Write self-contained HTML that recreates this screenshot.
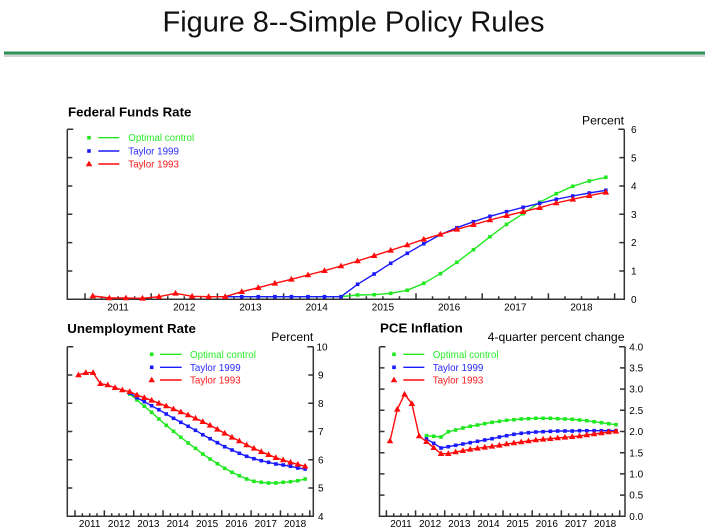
<!DOCTYPE html>
<html><head><meta charset="utf-8"><style>
html,body{margin:0;padding:0;background:#fff;}
svg{display:block;}
text{font-family:"Liberation Sans",Arial,sans-serif;}
</style></head><body>
<svg width="707" height="532" viewBox="0 0 707 532" xmlns="http://www.w3.org/2000/svg">
<defs>
<rect id="g" x="-1.8" y="-1.8" width="3.6" height="3.6" fill="#1fe81f"/>
<rect id="b" x="-1.8" y="-1.8" width="3.6" height="3.6" fill="#1a1aff"/>
<path id="r" d="M0,-3.4 L3.3,2.3 L-3.3,2.3Z" fill="#ff0a0a"/>
</defs>
<rect width="707" height="532" fill="#fff"/>
<text x="353.5" y="31.5" font-size="29" text-anchor="middle" fill="#111">Figure 8--Simple Policy Rules</text>
<rect x="4" y="54.5" width="701" height="2.5" fill="#d4d4d4"/>
<rect x="4" y="51.5" width="701" height="3" fill="#2f9458"/>

<!-- ===== TOP CHART ===== -->
<text x="68" y="116.5" font-size="13.3" font-weight="bold" fill="#000">Federal Funds Rate</text>
<text x="624" y="124.5" font-size="12.2" text-anchor="end" fill="#000">Percent</text>
<g stroke="#333" stroke-width="1.5" fill="none">
<path d="M67.3,129.3 V299.3 H624.3 V129.3"/>
<path d="M67.3,129.3h6 M67.3,157.65h5 M67.3,185.98h5 M67.3,214.31h5 M67.3,242.64h5 M67.3,270.97h5"/>
<path d="M624.3,129.3h-6 M624.3,157.65h-5 M624.3,185.98h-5 M624.3,214.31h-5 M624.3,242.64h-5 M624.3,270.97h-5"/>
<path d="M85,299.3v-6 M151.2,299.3v-6 M217.4,299.3v-6 M283.6,299.3v-6 M349.8,299.3v-6 M416,299.3v-6 M482.2,299.3v-6 M548.4,299.3v-6 M614.6,299.3v-6"/>
<path d="M101.55,299.3v-3 M118.1,299.3v-3 M134.65,299.3v-3 M167.75,299.3v-3 M184.3,299.3v-3 M200.85,299.3v-3 M233.95,299.3v-3 M250.5,299.3v-3 M267.05,299.3v-3 M300.15,299.3v-3 M316.7,299.3v-3 M333.25,299.3v-3 M366.35,299.3v-3 M382.9,299.3v-3 M399.45,299.3v-3 M432.55,299.3v-3 M449.1,299.3v-3 M465.65,299.3v-3 M498.75,299.3v-3 M515.3,299.3v-3 M531.85,299.3v-3 M564.95,299.3v-3 M581.5,299.3v-3 M598.05,299.3v-3"/>
</g>
<g font-size="10" fill="#000">
<text x="631" y="302.9">0</text><text x="631" y="274.6">1</text><text x="631" y="246.2">2</text><text x="631" y="217.9">3</text><text x="631" y="189.6">4</text><text x="631" y="161.3">5</text><text x="631" y="132.9">6</text>
</g>
<g font-size="10" fill="#000" text-anchor="middle">
<text x="118.1" y="310.5">2011</text><text x="184.3" y="310.5">2012</text><text x="250.5" y="310.5">2013</text><text x="316.7" y="310.5">2014</text><text x="382.9" y="310.5">2015</text><text x="449.1" y="310.5">2016</text><text x="515.3" y="310.5">2017</text><text x="581.5" y="310.5">2018</text>
</g>
<!-- legend top -->
<use href="#g" x="89" y="137.7"/><line x1="98.3" y1="137.7" x2="119.3" y2="137.7" stroke="#1fe81f" stroke-width="1.4"/>
<text x="128.3" y="141.2" font-size="9.8" fill="#2aee2a">Optimal control</text>
<use href="#b" x="89" y="151"/><line x1="98.3" y1="151" x2="119.3" y2="151" stroke="#1a1aff" stroke-width="1.4"/>
<text x="128.3" y="154.5" font-size="9.8" fill="#2a2aff">Taylor 1999</text>
<use href="#r" x="89" y="164"/><line x1="98.3" y1="164" x2="119.3" y2="164" stroke="#ff0a0a" stroke-width="1.4"/>
<text x="128.3" y="167.5" font-size="9.8" fill="#ff1a1a">Taylor 1993</text>
<!-- series top -->
<polyline fill="none" stroke-width="1.4" stroke-linejoin="round" stroke="#1fe81f" points="225.2,296.7 241.75,296.7 258.3,296.7 274.85,296.7 291.4,296.7 307.95,296.7 324.5,296.7 341.05,296.7 357.6,295 374.15,294.7 390.7,293.3 407.25,290.3 423.8,283.3 440.35,273.7 456.9,262.3 473.45,249.7 490,236.7 506.55,224.3 523.1,213.7 539.65,202.3 556.2,193.7 572.75,186.3 589.3,181 605.85,177.3"/>
<g>
<use href="#g" x="357.6" y="295"/><use href="#g" x="374.15" y="294.7"/><use href="#g" x="390.7" y="293.3"/><use href="#g" x="407.25" y="290.3"/><use href="#g" x="423.8" y="283.3"/><use href="#g" x="440.35" y="273.7"/><use href="#g" x="456.9" y="262.3"/><use href="#g" x="473.45" y="249.7"/><use href="#g" x="490" y="236.7"/><use href="#g" x="506.55" y="224.3"/><use href="#g" x="523.1" y="213.7"/><use href="#g" x="539.65" y="202.3"/><use href="#g" x="556.2" y="193.7"/><use href="#g" x="572.75" y="186.3"/><use href="#g" x="589.3" y="181"/><use href="#g" x="605.85" y="177.3"/>
</g>
<polyline fill="none" stroke-width="1.4" stroke-linejoin="round" stroke="#1a1aff" points="225.2,296.7 241.75,296.7 258.3,296.7 274.85,296.7 291.4,296.7 307.95,296.7 324.5,296.7 341.05,296.7 357.6,284.3 374.15,274 390.7,263.3 407.25,253.3 423.8,243.7 440.35,234.7 456.9,227.7 473.45,221.7 490,216.3 506.55,211.7 523.1,207.3 539.65,203.3 556.2,199.3 572.75,196 589.3,193 605.85,190.3"/>
<g>
<use href="#b" x="241.75" y="296.7"/><use href="#b" x="258.3" y="296.7"/><use href="#b" x="274.85" y="296.7"/><use href="#b" x="291.4" y="296.7"/><use href="#b" x="307.95" y="296.7"/><use href="#b" x="324.5" y="296.7"/><use href="#b" x="341.05" y="296.7"/><use href="#b" x="357.6" y="284.3"/><use href="#b" x="374.15" y="274"/><use href="#b" x="390.7" y="263.3"/><use href="#b" x="407.25" y="253.3"/><use href="#b" x="423.8" y="243.7"/><use href="#b" x="440.35" y="234.7"/><use href="#b" x="456.9" y="227.7"/><use href="#b" x="473.45" y="221.7"/><use href="#b" x="490" y="216.3"/><use href="#b" x="506.55" y="211.7"/><use href="#b" x="523.1" y="207.3"/><use href="#b" x="539.65" y="203.3"/><use href="#b" x="556.2" y="199.3"/><use href="#b" x="572.75" y="196"/><use href="#b" x="589.3" y="193"/><use href="#b" x="605.85" y="190.3"/>
</g>
<polyline fill="none" stroke-width="1.4" stroke-linejoin="round" stroke="#ff0a0a" points="92.8,296 109.35,298 125.9,298 142.45,298.3 159,296.7 175.55,293.3 192.1,296.3 208.65,296.7 225.2,296.7 241.75,291.7 258.3,287.7 274.85,283.3 291.4,279.3 307.95,275 324.5,270.7 341.05,266 357.6,261 374.15,255.7 390.7,250.3 407.25,245 423.8,239.3 440.35,234.3 456.9,229.3 473.45,224.7 490,220 506.55,215.7 523.1,211.7 539.65,207.7 556.2,203 572.75,199.3 589.3,195.7 605.85,192.3"/>
<g>
<use href="#r" x="92.8" y="296"/><use href="#r" x="109.35" y="298"/><use href="#r" x="125.9" y="298"/><use href="#r" x="142.45" y="298.3"/><use href="#r" x="159" y="296.7"/><use href="#r" x="175.55" y="293.3"/><use href="#r" x="192.1" y="296.3"/><use href="#r" x="208.65" y="296.7"/><use href="#r" x="225.2" y="296.7"/><use href="#r" x="241.75" y="291.7"/><use href="#r" x="258.3" y="287.7"/><use href="#r" x="274.85" y="283.3"/><use href="#r" x="291.4" y="279.3"/><use href="#r" x="307.95" y="275"/><use href="#r" x="324.5" y="270.7"/><use href="#r" x="341.05" y="266"/><use href="#r" x="357.6" y="261"/><use href="#r" x="374.15" y="255.7"/><use href="#r" x="390.7" y="250.3"/><use href="#r" x="407.25" y="245"/><use href="#r" x="423.8" y="239.3"/><use href="#r" x="440.35" y="234.3"/><use href="#r" x="456.9" y="229.3"/><use href="#r" x="473.45" y="224.7"/><use href="#r" x="490" y="220"/><use href="#r" x="506.55" y="215.7"/><use href="#r" x="523.1" y="211.7"/><use href="#r" x="539.65" y="207.7"/><use href="#r" x="556.2" y="203"/><use href="#r" x="572.75" y="199.3"/><use href="#r" x="589.3" y="195.7"/><use href="#r" x="605.85" y="192.3"/>
</g>

<!-- ===== UNEMPLOYMENT ===== -->
<text x="67.3" y="333" font-size="13.3" font-weight="bold" fill="#000">Unemployment Rate</text>
<text x="313.3" y="341" font-size="12.2" text-anchor="end" fill="#000">Percent</text>
<g stroke="#333" stroke-width="1.5" fill="none">
<path d="M67.3,346.7 V516.3 H313.3 V346.7"/>
<path d="M67.3,346.7h6 M67.3,374.97h5 M67.3,403.23h5 M67.3,431.5h5 M67.3,459.77h5 M67.3,488.03h5"/>
<path d="M313.3,346.7h-6 M313.3,374.97h-5 M313.3,403.23h-5 M313.3,431.5h-5 M313.3,459.77h-5 M313.3,488.03h-5"/>
<path d="M75,516.3v-6 M104.35,516.3v-6 M133.7,516.3v-6 M163.05,516.3v-6 M192.4,516.3v-6 M221.75,516.3v-6 M251.1,516.3v-6 M280.45,516.3v-6 M309.8,516.3v-6"/>
<path d="M82.34,516.3v-3 M89.68,516.3v-3 M97.01,516.3v-3 M111.69,516.3v-3 M119.03,516.3v-3 M126.36,516.3v-3 M141.04,516.3v-3 M148.38,516.3v-3 M155.71,516.3v-3 M170.39,516.3v-3 M177.73,516.3v-3 M185.06,516.3v-3 M199.74,516.3v-3 M207.08,516.3v-3 M214.41,516.3v-3 M229.09,516.3v-3 M236.43,516.3v-3 M243.76,516.3v-3 M258.44,516.3v-3 M265.78,516.3v-3 M273.11,516.3v-3 M287.79,516.3v-3 M295.13,516.3v-3 M302.46,516.3v-3"/>
</g>
<g font-size="10" fill="#000">
<text x="318" y="519.9">4</text><text x="318" y="491.6">5</text><text x="318" y="463.4">6</text><text x="318" y="435.1">7</text><text x="318" y="406.8">8</text><text x="318" y="378.6">9</text><text x="316.5" y="350.3">10</text>
</g>
<g font-size="10" fill="#000" text-anchor="middle">
<text x="89.68" y="527">2011</text><text x="119.03" y="527">2012</text><text x="148.38" y="527">2013</text><text x="177.73" y="527">2014</text><text x="207.08" y="527">2015</text><text x="236.43" y="527">2016</text><text x="265.78" y="527">2017</text><text x="295.13" y="527">2018</text>
</g>
<use href="#g" x="151.7" y="354.3"/><line x1="160" y1="354.3" x2="181.7" y2="354.3" stroke="#1fe81f" stroke-width="1.4"/>
<text x="190" y="357.8" font-size="9.8" fill="#2aee2a">Optimal control</text>
<use href="#b" x="151.7" y="367.3"/><line x1="160" y1="367.3" x2="181.7" y2="367.3" stroke="#1a1aff" stroke-width="1.4"/>
<text x="190" y="370.8" font-size="9.8" fill="#2a2aff">Taylor 1999</text>
<use href="#r" x="151.7" y="380"/><line x1="160" y1="380" x2="181.7" y2="380" stroke="#ff0a0a" stroke-width="1.4"/>
<text x="190" y="383.5" font-size="9.8" fill="#ff1a1a">Taylor 1993</text>

<polyline fill="none" stroke-width="1.4" stroke-linejoin="round" stroke="#1fe81f" points="129.67,394 136.98,400 144.29,406.3 151.6,412.3 158.91,419 166.22,425.3 173.53,431.3 180.84,437.3 188.15,443 195.46,448.3 202.77,454 210.08,459 217.39,463.7 224.7,468.3 232.01,472.3 239.32,475.7 246.63,479 253.94,481.3 261.25,482.3 268.56,483 275.87,483 283.18,482.3 290.49,481.7 297.8,480.7 305.11,479"/>
<g>
<use href="#g" x="129.67" y="394"/><use href="#g" x="136.98" y="400"/><use href="#g" x="144.29" y="406.3"/><use href="#g" x="151.6" y="412.3"/><use href="#g" x="158.91" y="419"/><use href="#g" x="166.22" y="425.3"/><use href="#g" x="173.53" y="431.3"/><use href="#g" x="180.84" y="437.3"/><use href="#g" x="188.15" y="443"/><use href="#g" x="195.46" y="448.3"/><use href="#g" x="202.77" y="454"/><use href="#g" x="210.08" y="459"/><use href="#g" x="217.39" y="463.7"/><use href="#g" x="224.7" y="468.3"/><use href="#g" x="232.01" y="472.3"/><use href="#g" x="239.32" y="475.7"/><use href="#g" x="246.63" y="479"/><use href="#g" x="253.94" y="481.3"/><use href="#g" x="261.25" y="482.3"/><use href="#g" x="268.56" y="483"/><use href="#g" x="275.87" y="483"/><use href="#g" x="283.18" y="482.3"/><use href="#g" x="290.49" y="481.7"/><use href="#g" x="297.8" y="480.7"/><use href="#g" x="305.11" y="479"/>
</g>
<polyline fill="none" stroke-width="1.4" stroke-linejoin="round" stroke="#1a1aff" points="129.67,393 136.98,397.7 144.29,401.7 151.6,405.7 158.91,409.7 166.22,414 173.53,418.3 180.84,422.3 188.15,426.3 195.46,430.3 202.77,434.7 210.08,438.7 217.39,442.7 224.7,446.7 232.01,450 239.32,453.3 246.63,456.3 253.94,458.7 261.25,460.7 268.56,462.3 275.87,464 283.18,465 290.49,466.3 297.8,468 305.11,469"/>
<g>
<use href="#b" x="129.67" y="393"/><use href="#b" x="136.98" y="397.7"/><use href="#b" x="144.29" y="401.7"/><use href="#b" x="151.6" y="405.7"/><use href="#b" x="158.91" y="409.7"/><use href="#b" x="166.22" y="414"/><use href="#b" x="173.53" y="418.3"/><use href="#b" x="180.84" y="422.3"/><use href="#b" x="188.15" y="426.3"/><use href="#b" x="195.46" y="430.3"/><use href="#b" x="202.77" y="434.7"/><use href="#b" x="210.08" y="438.7"/><use href="#b" x="217.39" y="442.7"/><use href="#b" x="224.7" y="446.7"/><use href="#b" x="232.01" y="450"/><use href="#b" x="239.32" y="453.3"/><use href="#b" x="246.63" y="456.3"/><use href="#b" x="253.94" y="458.7"/><use href="#b" x="261.25" y="460.7"/><use href="#b" x="268.56" y="462.3"/><use href="#b" x="275.87" y="464"/><use href="#b" x="283.18" y="465"/><use href="#b" x="290.49" y="466.3"/><use href="#b" x="297.8" y="468"/><use href="#b" x="305.11" y="469"/>
</g>
<polyline fill="none" stroke-width="1.4" stroke-linejoin="round" stroke="#ff0a0a" points="78.5,375 85.81,372.7 93.12,372.7 100.43,383.7 107.74,385 115.05,387.7 122.36,390 129.67,391.7 136.98,395 144.29,397.7 151.6,400.3 158.91,403.3 166.22,406 173.53,409 180.84,412 188.15,415 195.46,418.3 202.77,421.7 210.08,425.3 217.39,429.3 224.7,433.3 232.01,437.3 239.32,441 246.63,445 253.94,448.3 261.25,451.7 268.56,454.7 275.87,457.7 283.18,460 290.49,462.3 297.8,464.3 305.11,466.3"/>
<g>
<use href="#r" x="78.5" y="375"/><use href="#r" x="85.81" y="372.7"/><use href="#r" x="93.12" y="372.7"/><use href="#r" x="100.43" y="383.7"/><use href="#r" x="107.74" y="385"/><use href="#r" x="115.05" y="387.7"/><use href="#r" x="122.36" y="390"/><use href="#r" x="129.67" y="391.7"/><use href="#r" x="136.98" y="395"/><use href="#r" x="144.29" y="397.7"/><use href="#r" x="151.6" y="400.3"/><use href="#r" x="158.91" y="403.3"/><use href="#r" x="166.22" y="406"/><use href="#r" x="173.53" y="409"/><use href="#r" x="180.84" y="412"/><use href="#r" x="188.15" y="415"/><use href="#r" x="195.46" y="418.3"/><use href="#r" x="202.77" y="421.7"/><use href="#r" x="210.08" y="425.3"/><use href="#r" x="217.39" y="429.3"/><use href="#r" x="224.7" y="433.3"/><use href="#r" x="232.01" y="437.3"/><use href="#r" x="239.32" y="441"/><use href="#r" x="246.63" y="445"/><use href="#r" x="253.94" y="448.3"/><use href="#r" x="261.25" y="451.7"/><use href="#r" x="268.56" y="454.7"/><use href="#r" x="275.87" y="457.7"/><use href="#r" x="283.18" y="460"/><use href="#r" x="290.49" y="462.3"/><use href="#r" x="297.8" y="464.3"/><use href="#r" x="305.11" y="466.3"/>
</g>

<!-- ===== PCE INFLATION ===== -->
<text x="380" y="332.7" font-size="13.3" font-weight="bold" fill="#000">PCE Inflation</text>
<text x="624.5" y="341" font-size="12.2" text-anchor="end" fill="#000">4-quarter percent change</text>
<g stroke="#333" stroke-width="1.5" fill="none">
<path d="M379.5,346.7 V516.3 H625 V346.7"/>
<path d="M379.5,346.7h6 M379.5,367.9h5 M379.5,389.1h5 M379.5,410.3h5 M379.5,431.5h5 M379.5,452.7h5 M379.5,473.9h5 M379.5,495.1h5"/>
<path d="M625,346.7h-6 M625,367.9h-5 M625,389.1h-5 M625,410.3h-5 M625,431.5h-5 M625,452.7h-5 M625,473.9h-5 M625,495.1h-5"/>
<path d="M386.4,516.3v-6 M415.56,516.3v-6 M444.72,516.3v-6 M473.88,516.3v-6 M503.04,516.3v-6 M532.2,516.3v-6 M561.36,516.3v-6 M590.52,516.3v-6 M619.68,516.3v-6"/>
<path d="M393.69,516.3v-3 M400.98,516.3v-3 M408.27,516.3v-3 M422.85,516.3v-3 M430.14,516.3v-3 M437.43,516.3v-3 M452.01,516.3v-3 M459.3,516.3v-3 M466.59,516.3v-3 M481.17,516.3v-3 M488.46,516.3v-3 M495.75,516.3v-3 M510.33,516.3v-3 M517.62,516.3v-3 M524.91,516.3v-3 M539.49,516.3v-3 M546.78,516.3v-3 M554.07,516.3v-3 M568.65,516.3v-3 M575.94,516.3v-3 M583.23,516.3v-3 M597.81,516.3v-3 M605.1,516.3v-3 M612.39,516.3v-3"/>
</g>
<g font-size="10" fill="#000">
<text x="629.3" y="519.9">0.0</text><text x="629.3" y="498.7">0.5</text><text x="629.3" y="477.5">1.0</text><text x="629.3" y="456.3">1.5</text><text x="629.3" y="435.1">2.0</text><text x="629.3" y="413.9">2.5</text><text x="629.3" y="392.7">3.0</text><text x="629.3" y="371.5">3.5</text><text x="629.3" y="350.3">4.0</text>
</g>
<g font-size="10" fill="#000" text-anchor="middle">
<text x="400.98" y="527">2011</text><text x="430.14" y="527">2012</text><text x="459.3" y="527">2013</text><text x="488.46" y="527">2014</text><text x="517.62" y="527">2015</text><text x="546.78" y="527">2016</text><text x="575.94" y="527">2017</text><text x="605.1" y="527">2018</text>
</g>
<use href="#g" x="394" y="354.3"/><line x1="403.3" y1="354.3" x2="424.3" y2="354.3" stroke="#1fe81f" stroke-width="1.4"/>
<text x="432.7" y="357.8" font-size="9.8" fill="#2aee2a">Optimal control</text>
<use href="#b" x="394" y="367.3"/><line x1="403.3" y1="367.3" x2="424.3" y2="367.3" stroke="#1a1aff" stroke-width="1.4"/>
<text x="432.7" y="370.8" font-size="9.8" fill="#2a2aff">Taylor 1999</text>
<use href="#r" x="394" y="380"/><line x1="403.3" y1="380" x2="424.3" y2="380" stroke="#ff0a0a" stroke-width="1.4"/>
<text x="432.7" y="383.5" font-size="9.8" fill="#ff1a1a">Taylor 1993</text>

<polyline fill="none" stroke-width="1.4" stroke-linejoin="round" stroke="#1fe81f" points="426.45,435.7 433.74,436.3 441.03,437 448.32,431.7 455.61,430 462.9,428 470.19,426.3 477.48,425 484.77,423.7 492.06,422.3 499.35,421.3 506.64,420.3 513.93,419.7 521.22,419 528.51,418.7 535.8,418.3 543.09,418.3 550.38,418.3 557.67,418.7 564.96,419 572.25,419.3 579.54,420 586.83,420.7 594.12,421.7 601.41,422.7 608.7,423.7 616,424.7"/>
<g>
<use href="#g" x="426.45" y="435.7"/><use href="#g" x="433.74" y="436.3"/><use href="#g" x="441.03" y="437"/><use href="#g" x="448.32" y="431.7"/><use href="#g" x="455.61" y="430"/><use href="#g" x="462.9" y="428"/><use href="#g" x="470.19" y="426.3"/><use href="#g" x="477.48" y="425"/><use href="#g" x="484.77" y="423.7"/><use href="#g" x="492.06" y="422.3"/><use href="#g" x="499.35" y="421.3"/><use href="#g" x="506.64" y="420.3"/><use href="#g" x="513.93" y="419.7"/><use href="#g" x="521.22" y="419"/><use href="#g" x="528.51" y="418.7"/><use href="#g" x="535.8" y="418.3"/><use href="#g" x="543.09" y="418.3"/><use href="#g" x="550.38" y="418.3"/><use href="#g" x="557.67" y="418.7"/><use href="#g" x="564.96" y="419"/><use href="#g" x="572.25" y="419.3"/><use href="#g" x="579.54" y="420"/><use href="#g" x="586.83" y="420.7"/><use href="#g" x="594.12" y="421.7"/><use href="#g" x="601.41" y="422.7"/><use href="#g" x="608.7" y="423.7"/><use href="#g" x="616" y="424.7"/>
</g>
<polyline fill="none" stroke-width="1.4" stroke-linejoin="round" stroke="#1a1aff" points="426.45,439 433.74,443.3 441.03,448 448.32,446.7 455.61,445.3 462.9,444 470.19,442.7 477.48,441.3 484.77,440 492.06,438.7 499.35,437 506.64,435.7 513.93,434.3 521.22,433.3 528.51,432.7 535.8,432 543.09,431.7 550.38,431.3 557.67,431 564.96,431 572.25,431 579.54,430.7 586.83,430.7 594.12,430.7 601.41,430.7 608.7,430.7 616,430.7"/>
<g>
<use href="#b" x="426.45" y="439"/><use href="#b" x="433.74" y="443.3"/><use href="#b" x="441.03" y="448"/><use href="#b" x="448.32" y="446.7"/><use href="#b" x="455.61" y="445.3"/><use href="#b" x="462.9" y="444"/><use href="#b" x="470.19" y="442.7"/><use href="#b" x="477.48" y="441.3"/><use href="#b" x="484.77" y="440"/><use href="#b" x="492.06" y="438.7"/><use href="#b" x="499.35" y="437"/><use href="#b" x="506.64" y="435.7"/><use href="#b" x="513.93" y="434.3"/><use href="#b" x="521.22" y="433.3"/><use href="#b" x="528.51" y="432.7"/><use href="#b" x="535.8" y="432"/><use href="#b" x="543.09" y="431.7"/><use href="#b" x="550.38" y="431.3"/><use href="#b" x="557.67" y="431"/><use href="#b" x="564.96" y="431"/><use href="#b" x="572.25" y="431"/><use href="#b" x="579.54" y="430.7"/><use href="#b" x="586.83" y="430.7"/><use href="#b" x="594.12" y="430.7"/><use href="#b" x="601.41" y="430.7"/><use href="#b" x="608.7" y="430.7"/><use href="#b" x="616" y="430.7"/>
</g>
<polyline fill="none" stroke-width="1.4" stroke-linejoin="round" stroke="#ff0a0a" points="390,441 397.29,409.3 404.58,394.3 411.87,403.7 419.16,436 426.45,441.7 433.74,447.7 441.03,453.7 448.32,453.7 455.61,452 462.9,450.7 470.19,449.3 477.48,448.3 484.77,447.3 492.06,446.3 499.35,445.3 506.64,444 513.93,443 521.22,442 528.51,441 535.8,440 543.09,439.3 550.38,438.7 557.67,438 564.96,437.3 572.25,436.7 579.54,436 586.83,435 594.12,434 601.41,433 608.7,432 616,431.3"/>
<g>
<use href="#r" x="390" y="441"/><use href="#r" x="397.29" y="409.3"/><use href="#r" x="404.58" y="394.3"/><use href="#r" x="411.87" y="403.7"/><use href="#r" x="419.16" y="436"/><use href="#r" x="426.45" y="441.7"/><use href="#r" x="433.74" y="447.7"/><use href="#r" x="441.03" y="453.7"/><use href="#r" x="448.32" y="453.7"/><use href="#r" x="455.61" y="452"/><use href="#r" x="462.9" y="450.7"/><use href="#r" x="470.19" y="449.3"/><use href="#r" x="477.48" y="448.3"/><use href="#r" x="484.77" y="447.3"/><use href="#r" x="492.06" y="446.3"/><use href="#r" x="499.35" y="445.3"/><use href="#r" x="506.64" y="444"/><use href="#r" x="513.93" y="443"/><use href="#r" x="521.22" y="442"/><use href="#r" x="528.51" y="441"/><use href="#r" x="535.8" y="440"/><use href="#r" x="543.09" y="439.3"/><use href="#r" x="550.38" y="438.7"/><use href="#r" x="557.67" y="438"/><use href="#r" x="564.96" y="437.3"/><use href="#r" x="572.25" y="436.7"/><use href="#r" x="579.54" y="436"/><use href="#r" x="586.83" y="435"/><use href="#r" x="594.12" y="434"/><use href="#r" x="601.41" y="433"/><use href="#r" x="608.7" y="432"/><use href="#r" x="616" y="431.3"/>
</g>
</svg>
</body></html>
